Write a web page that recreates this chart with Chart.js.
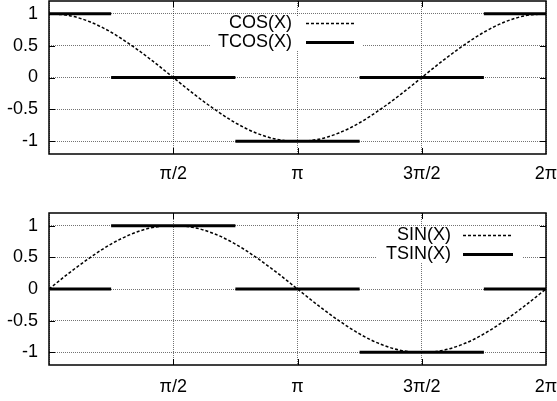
<!DOCTYPE html>
<html>
<head>
<meta charset="utf-8">
<script src="https://cdn.jsdelivr.net/npm/chart.js@4/dist/chart.umd.min.js"></script>
<style>
html, body { margin: 0; padding: 0; background: #fff; }
#wrap { position: relative; width: 557px; height: 401px; }
canvas { position: absolute; left: 0; }
</style>
</head>
<body>
<div id="wrap">
  <canvas id="cosChart" width="557" height="200" style="top:0"></canvas>
  <canvas id="sinChart" width="557" height="201" style="top:200px"></canvas>
</div>
<script>
// sample positions along x (radians) and curve values
const xs = [0, 0.2618, 0.5236, 0.7854, 1.0472, 1.309, 1.5708, 1.8326, 2.0944, 2.3562, 2.618, 2.8798,
  3.1416, 3.4034, 3.6652, 3.927, 4.1888, 4.4506, 4.7124, 4.9742, 5.236, 5.4978, 5.7596, 6.0214, 6.2832];
const cosVals = [1, 0.97, 0.87, 0.71, 0.5, 0.26, 0, -0.26, -0.5, -0.71, -0.87, -0.97,
  -1, -0.97, -0.87, -0.71, -0.5, -0.26, 0, 0.26, 0.5, 0.71, 0.87, 0.97, 1];
const sinVals = [0, 0.26, 0.5, 0.71, 0.87, 0.97, 1, 0.97, 0.87, 0.71, 0.5, 0.26,
  0, -0.26, -0.5, -0.71, -0.87, -0.97, -1, -0.97, -0.87, -0.71, -0.5, -0.26, 0];

// step functions: level held between consecutive edges
const stepEdges = [0, 0.7854, 2.3562, 3.927, 5.4978, 6.2832];
const tcosLevels = [1, 0, -1, 0, 1];
const tsinLevels = [0, 1, 0, -1, 0];

const xTicks = [0, 1.5708, 3.1416, 4.7124, 6.2832];
const xTickLabels = ['', 'π/2', 'π', '3π/2', '2π'];
const yTicks = [-1, -0.5, 0, 0.5, 1];
const yTickLabels = ['-1', '-0.5', '0', '0.5', '1'];

const FONT = '"Liberation Sans", Arial, Helvetica, sans-serif';
const FONT_SIZE = 18;

function curvePoints(vals) {
    return xs.map((x, i) => ({ x: x, y: vals[i] }));
}

function stepPoints(levels) {
    const pts = [];
    levels.forEach((lv, i) => {
        if (i > 0) pts.push({ x: stepEdges[i], y: null });
        pts.push({ x: stepEdges[i], y: lv });
        pts.push({ x: stepEdges[i + 1], y: lv });
    });
    return pts;
}

// frame, inside ticks and the gnuplot-style key
const gnuplotDecor = {
    id: 'gnuplotDecor',
    beforeDatasetsDraw(chart, args, opts) {
        const ctx = chart.ctx;
        const b = opts.box;
        ctx.save();
        ctx.fillStyle = '#fff';
        ctx.fillRect(b[0], b[1], b[2] - b[0], b[3] - b[1]);
        ctx.restore();
    },
    afterDraw(chart, args, opts) {
        const ctx = chart.ctx;
        const a = chart.chartArea;
        const sx = chart.scales.x, sy = chart.scales.y;
        ctx.save();
        ctx.strokeStyle = '#000';
        ctx.lineWidth = 1;
        ctx.beginPath();
        xTicks.slice(1, -1).forEach(v => {
            const px = Math.round(sx.getPixelForValue(v)) + 0.5;
            ctx.moveTo(px, a.bottom); ctx.lineTo(px, a.bottom - 6);
            ctx.moveTo(px, a.top); ctx.lineTo(px, a.top + 6);
        });
        yTicks.forEach(v => {
            const py = Math.round(sy.getPixelForValue(v)) + 0.5;
            ctx.moveTo(a.left, py); ctx.lineTo(a.left + 6, py);
            ctx.moveTo(a.right, py); ctx.lineTo(a.right - 6, py);
        });
        ctx.stroke();

        ctx.lineWidth = 1.5;
        ctx.strokeRect(a.left, a.top, a.right - a.left, a.bottom - a.top);

        // key
        ctx.font = FONT_SIZE + 'px ' + FONT;
        ctx.fillStyle = '#000';
        ctx.textAlign = 'right';
        ctx.textBaseline = 'middle';
        opts.names.forEach((name, i) => {
            const y = opts.rows[i];
            ctx.fillText(name, opts.textRight, y);
            ctx.beginPath();
            if (i === 0) {
                ctx.lineWidth = 1.5;
                ctx.setLineDash([3, 2]);
            } else {
                ctx.lineWidth = 3;
                ctx.setLineDash([]);
            }
            ctx.moveTo(opts.sample[0], Math.round(y) + 0.5);
            ctx.lineTo(opts.sample[1], Math.round(y) + 0.5);
            ctx.stroke();
        });
        ctx.restore();
    }
};

function makeChart(id, curveVals, levels, names, layout) {
    new Chart(document.getElementById(id), {
        type: 'line',
        data: {
            datasets: [{
                label: names[0],
                data: curvePoints(curveVals),
                borderColor: '#000',
                borderWidth: 1.5,
                borderDash: [3, 2],
                pointRadius: 0,
                cubicInterpolationMode: 'monotone',
                fill: false
            }, {
                label: names[1],
                data: stepPoints(levels),
                borderColor: '#000',
                borderWidth: 3,
                pointRadius: 0,
                spanGaps: false,
                fill: false
            }]
        },
        options: {
            responsive: false,
            animation: false,
            layout: { padding: { left: 0, right: 11, top: layout.padTop, bottom: 0 } },
            plugins: {
                legend: { display: false },
                tooltip: { enabled: false },
                gnuplotDecor: layout.key
            },
            scales: {
                x: {
                    type: 'linear',
                    min: 0,
                    max: 6.2832,
                    afterBuildTicks: s => { s.ticks = xTicks.map(v => ({ value: v })); },
                    afterFit: s => {
                        s.height = layout.xAxisH;
                        s.paddingLeft = 0;
                        s.paddingRight = 0;
                    },
                    ticks: {
                        autoSkip: false,
                        maxRotation: 0,
                        padding: layout.xPad,
                        color: '#000',
                        font: { family: FONT, size: FONT_SIZE },
                        callback: (v, i) => xTickLabels[i]
                    },
                    grid: {
                        drawTicks: false,
                        color: 'rgba(0,0,0,0.55)',
                        lineWidth: 1
                    },
                    border: { display: false, dash: [1, 1] }
                },
                y: {
                    min: -1.2,
                    max: 1.2,
                    afterBuildTicks: s => { s.ticks = yTicks.map(v => ({ value: v })); },
                    afterFit: s => {
                        s.width = 49;
                        s.paddingTop = 0;
                        s.paddingBottom = 0;
                    },
                    ticks: {
                        padding: 11,
                        color: '#000',
                        font: { family: FONT, size: FONT_SIZE },
                        callback: (v, i) => yTickLabels[i]
                    },
                    grid: {
                        drawTicks: false,
                        color: 'rgba(0,0,0,0.55)',
                        lineWidth: 1
                    },
                    border: { display: false, dash: [1, 1] }
                }
            }
        },
        plugins: [gnuplotDecor]
    });
}

makeChart('cosChart', cosVals, tcosLevels, ['COS(X)', 'TCOS(X)'], {
    padTop: 1,
    xAxisH: 46,
    xPad: 9,
    key: { names: ['COS(X)', 'TCOS(X)'], rows: [23, 42], textRight: 292, sample: [306, 354], box: [210, 16, 363, 51] }
});

makeChart('sinChart', sinVals, tsinLevels, ['SIN(X)', 'TSIN(X)'], {
    padTop: 13,
    xAxisH: 36,
    xPad: 11,
    key: { names: ['SIN(X)', 'TSIN(X)'], rows: [35, 54], textRight: 451, sample: [463, 513], box: [377, 28, 523, 62] }
});
</script>
</body>
</html>
